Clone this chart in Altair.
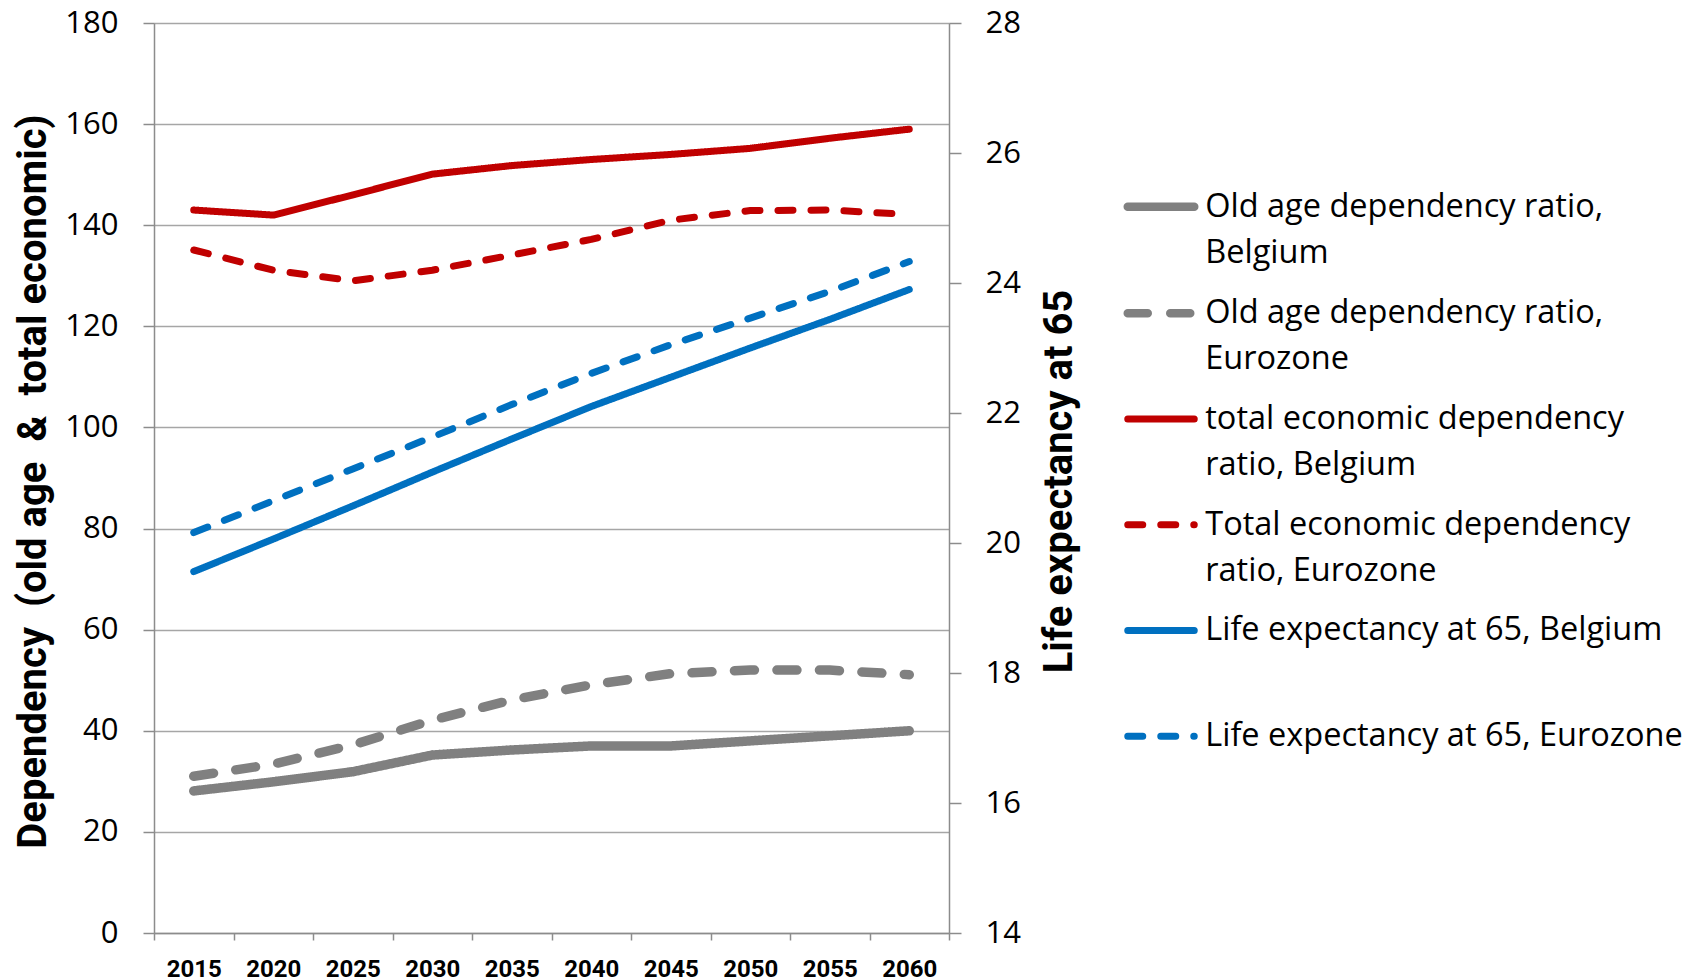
import json
import altair as alt
import pandas as pd

years = ["2015", "2020", "2025", "2030", "2035", "2040", "2045", "2050", "2055", "2060"]

old_age_be = [28.1, 29.9, 31.9, 35.2, 36.2, 37.0, 37.0, 38.0, 39.0, 40.0]
old_age_ez = [31.0, 33.4, 37.2, 42.1, 46.1, 49.1, 51.3, 52.0, 52.0, 51.1]
total_econ_be = [143.0, 142.0, 146.0, 150.1, 151.8, 153.0, 154.0, 155.2, 157.2, 159.0]
total_econ_ez = [135.1, 131.1, 129.0, 131.1, 134.1, 137.2, 141.0, 142.9, 143.0, 142.1]
life_exp_be = [19.56, 20.06, 20.57, 21.09, 21.60, 22.10, 22.55, 23.00, 23.44, 23.90]
life_exp_ez = [20.16, 20.65, 21.14, 21.63, 22.13, 22.61, 23.05, 23.46, 23.87, 24.33]

series = [
    "Old age dependency ratio, Belgium",
    "Old age dependency ratio, Eurozone",
    "total economic dependency ratio, Belgium",
    "Total economic dependency ratio, Eurozone",
    "Life expectancy at 65, Belgium",
    "Life expectancy at 65, Eurozone",
]
legend_lines = [
    ["Old age dependency ratio,", "Belgium"],
    ["Old age dependency ratio,", "Eurozone"],
    ["total economic dependency", "ratio, Belgium"],
    ["Total economic dependency", "ratio, Eurozone"],
    ["Life expectancy at 65, Belgium", " "],
    ["Life expectancy at 65, Eurozone", " "],
]
colors = ["#808080", "#808080", "#C00000", "#C00000", "#0070C0", "#0070C0"]
dashes = [[1, 0], [20, 22.5], [1, 0], [15, 18], [1, 0], [15, 18]]

all_values = [old_age_be, old_age_ez, total_econ_be, total_econ_ez, life_exp_be, life_exp_ez]
rows = []
for name, vals in zip(series, all_values):
    for y, v in zip(years, vals):
        rows.append({"year": y, "series": name, "value": v})
df = pd.DataFrame(rows)

label_expr = json.dumps(dict(zip(series, legend_lines))) + "[datum.label]"

TITLE_FONT = "Roboto"
AXIS_GRAY = "#8C8C8C"

x_enc = alt.X(
    "year:O",
    scale=alt.Scale(domain=years, paddingInner=0, paddingOuter=0),
    axis=alt.Axis(
        title=None, labelAngle=0, labelFont=TITLE_FONT, labelFontWeight="bold",
        labelFontSize=24, labelColor="black", labelPadding=17,
        tickBand="extent", tickSize=7, tickColor=AXIS_GRAY, tickWidth=1.5,
        domainColor=AXIS_GRAY, domainWidth=1.5, grid=False,
    ),
)

y_left = alt.Y(
    "value:Q",
    scale=alt.Scale(domain=[0, 180], nice=False, zero=False),
    axis=alt.Axis(
        title="Dependency\u00a0 (old age\u00a0 &\u00a0 total economic)",
        values=list(range(0, 181, 20)),
        labelFont="Open Sans", labelFontSize=31, labelColor="black", labelPadding=25,
        tickSize=11, tickColor=AXIS_GRAY, tickWidth=1.5,
        domainColor=AXIS_GRAY, domainWidth=1.5,
        grid=True, gridColor="#A6A6A6", gridWidth=1.5,
        titleFont=TITLE_FONT, titleFontWeight="bold", titleFontSize=40, titleColor="black",
        titleAngle=270, titleX=-121, titleY=458, titleBaseline="middle", titleAlign="center",
    ),
)

y_right = alt.Y(
    "value:Q",
    scale=alt.Scale(domain=[14, 28], nice=False, zero=False),
    axis=alt.Axis(
        orient="right", title="Life expectancy at 65",
        values=list(range(14, 29, 2)),
        labelFont="Open Sans", labelFontSize=31, labelColor="black", labelPadding=24,
        tickSize=12, tickColor=AXIS_GRAY, tickWidth=1.5,
        domainColor=AXIS_GRAY, domainWidth=1.5, grid=False,
        titleFont=TITLE_FONT, titleFontWeight="bold", titleFontSize=40, titleColor="black",
        titleAngle=270, titleX=110, titleY=458, titleBaseline="middle", titleAlign="center",
    ),
)

color_enc = alt.Color(
    "series:N",
    scale=alt.Scale(domain=series, range=colors),
    legend=alt.Legend(
        title=None, orient="none", legendX=990.75, legendY=167.4, padding=0,
        symbolType="stroke", symbolSize=66.5 * 66.5, symbolStrokeWidth=7.5,
        labelExpr=label_expr, labelFont="Open Sans", labelFontSize=32.5,
        labelLimit=700, labelOffset=28, labelColor="black",
        labelBaseline="middle", rowPadding=26.7,
    ),
)
dash_enc = alt.StrokeDash("series:N", scale=alt.Scale(domain=series, range=dashes))

base = alt.Chart(df)

gray = base.transform_filter(
    alt.FieldOneOfPredicate(field="series", oneOf=series[0:2])
).mark_line(strokeWidth=9.5, strokeCap="round", strokeJoin="round").encode(
    x=x_enc, y=y_left, color=color_enc, strokeDash=dash_enc
)
red = base.transform_filter(
    alt.FieldOneOfPredicate(field="series", oneOf=series[2:4])
).mark_line(strokeWidth=7, strokeCap="round", strokeJoin="round").encode(
    x=x_enc, y=y_left, color=color_enc, strokeDash=dash_enc
)
blue = base.transform_filter(
    alt.FieldOneOfPredicate(field="series", oneOf=series[4:6])
).mark_line(strokeWidth=7, strokeCap="round", strokeJoin="round").encode(
    x=x_enc, y=y_right, color=color_enc, strokeDash=dash_enc
)

chart = alt.layer(alt.layer(gray, red), blue).resolve_scale(
    y="independent"
).properties(
    width=795, height=910,
    autosize=alt.AutoSizeParams(type="none"),
    padding={"left": 146, "top": 15, "right": 740, "bottom": 52},
).configure_view(stroke=None).configure(background="white")

patch = [
    {"op": "add", "path": "/legends/0/encode/labels/update/lineHeight", "value": {"value": 46}},
    {"op": "add", "path": "/legends/0/encode/symbols", "value": {
        "update": {
            "strokeCap": {"value": "round"},
            "strokeWidth": {"signal": "datum.index < 2 ? 8.5 : 7"},
        }
    }},
]

chart.save("out.html", embed_options={"renderer": "svg", "actions": False, "patch": patch})
